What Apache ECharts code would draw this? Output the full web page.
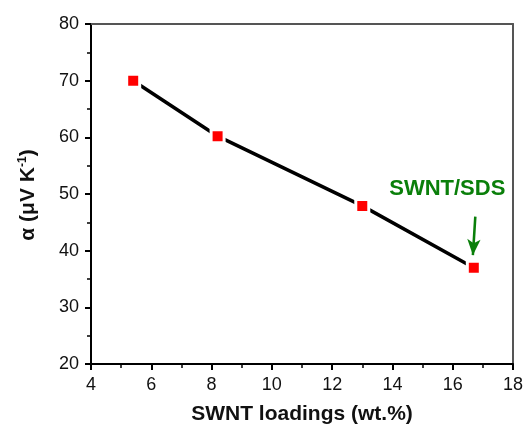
<!DOCTYPE html>
<html><head><meta charset="utf-8">
<script src="https://cdn.jsdelivr.net/npm/echarts@6/dist/echarts.min.js"></script>
<style>html,body{margin:0;padding:0;background:#fff}#c{width:526px;height:430px}</style>
</head><body><div id="c"></div>
<script>
const loadings = [5.4, 8.2, 13.0, 16.7];
const alphaVals = [70.0, 60.2, 47.9, 37.0];
const xTicks = [4, 6, 8, 10, 12, 14, 16, 18];
const yTicks = [20, 30, 40, 50, 60, 70, 80];
const annotationText = 'SWNT/SDS';
const annotationPos = [15.82, 50.9];
const arrowFrom = [16.75, 46.0];
const arrowTo = [16.67, 39.2];

const font = 'Liberation Sans, Arial, sans-serif';
const chart = echarts.init(document.getElementById('c'), null, {renderer: 'canvas'});
const data = loadings.map((x, i) => [x, alphaVals[i]]);
const axisCommon = {
  axisLine: {show: true, onZero: false, lineStyle: {color: '#000', width: 2}},
  axisTick: {show: true, length: 6, lineStyle: {color: '#000', width: 2}},
  minorTick: {show: true, splitNumber: 2, length: 4, lineStyle: {color: '#000', width: 1.5}},
  splitLine: {show: false},
  axisLabel: {color: '#111', fontSize: 18, fontFamily: font}
};
chart.setOption({
  animation: false,
  grid: {left: 91, right: 12, top: 24, bottom: 66},
  xAxis: [Object.assign({}, axisCommon, {
    type: 'value', min: xTicks[0], max: xTicks[xTicks.length - 1], interval: 2,
    name: 'SWNT loadings (wt.%)', nameLocation: 'middle', nameGap: 40,
    nameTextStyle: {fontSize: 21, fontWeight: 'bold', fontFamily: font, color: '#111'},
    axisLabel: Object.assign({}, axisCommon.axisLabel, {margin: 12})
  }), {
    type: 'value', position: 'top', min: xTicks[0], max: xTicks[xTicks.length - 1], interval: 2,
    axisLine: {show: true, onZero: false, lineStyle: {color: '#555', width: 2}},
    axisTick: {show: false}, axisLabel: {show: false}, splitLine: {show: false}
  }],
  yAxis: [Object.assign({}, axisCommon, {
    type: 'value', min: yTicks[0], max: yTicks[yTicks.length - 1], interval: 10,
    axisLabel: Object.assign({}, axisCommon.axisLabel, {margin: 12})
  }), {
    type: 'value', position: 'right', min: yTicks[0], max: yTicks[yTicks.length - 1], interval: 10,
    axisLine: {show: true, onZero: false, lineStyle: {color: '#555', width: 2}},
    axisTick: {show: false}, axisLabel: {show: false}, splitLine: {show: false}
  }],
  graphic: [{
    type: 'text', x: 28, y: 195, rotation: Math.PI / 2,
    style: {
      text: '{a|α (μV K}{s|-1}{a|)}',
      textAlign: 'center', textVerticalAlign: 'middle',
      rich: {
        a: {fontSize: 21, fontWeight: 'bold', fontFamily: font, fill: '#111'},
        s: {fontSize: 12, fontWeight: 'bold', fontFamily: font, fill: '#111', padding: [0, 0, 10, 0]}
      }
    }
  }],
  series: [{
    type: 'line', data: data,
    symbol: 'rect', symbolSize: 13,
    lineStyle: {color: '#000', width: 3.5},
    itemStyle: {color: '#ff0000', borderColor: '#fff', borderWidth: 3},
    z: 3,
    markPoint: {
      symbol: 'circle', symbolSize: 0, silent: true,
      label: {show: true, position: 'inside', formatter: annotationText, color: '#0a7f0a',
        fontSize: 22, fontWeight: 'bold', fontFamily: font},
      data: [{coord: annotationPos}]
    },
    markLine: {
      silent: true, symbol: ['none', 'arrow'], symbolSize: [10, 16],
      lineStyle: {color: '#0a7f0a', width: 2.5, type: 'solid'},
      label: {show: false},
      data: [[{coord: arrowFrom}, {coord: arrowTo}]]
    }
  }]
});
</script></body></html>
